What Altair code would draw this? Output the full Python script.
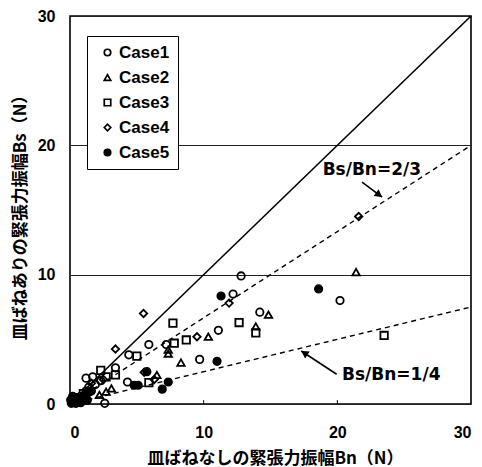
import math

import altair as alt
import pandas as pd

# Plot area size (pixels) and axis range
W, H = 401, 388
AX_MAX = 30

# Measured amplitudes: Bn (without disc spring) vs Bs (with disc spring)
cases = ["Case1", "Case2", "Case3", "Case4", "Case5"]

case1_bn = [0.3, 0.8, 1.2, 1.4, 1.9, 1.2, 1.7, 2.6, 3.4, 4.3, 4.4, 5.9, 7.2, 9.7, 11.1, 12.8, 12.2, 14.2, 20.2, 2.3]
case1_bs = [0.2, 0.5, 1.0, 1.3, 1.5, 2.0, 2.1, 0.05, 2.8, 1.7, 3.8, 4.6, 4.6, 3.45, 5.7, 9.9, 8.5, 7.1, 8.0, 1.8]

case2_bn = [0.5, 1.0, 2.2, 2.7, 3.1, 6.5, 8.3, 7.35, 7.35, 10.35, 13.9, 14.85, 21.4]
case2_bs = [0.1, 0.3, 0.7, 0.95, 1.2, 2.25, 3.2, 4.2, 3.9, 5.2, 6.0, 6.9, 10.2]

case3_bn = [0.4, 1.0, 2.3, 3.4, 5.0, 5.9, 7.7, 7.8, 8.7, 12.65, 13.9, 23.5, 2.7]
case3_bs = [0.3, 0.8, 2.6, 2.25, 3.7, 1.65, 6.25, 4.7, 4.95, 6.3, 5.5, 5.3, 2.1]

case4_bn = [0.2, 0.7, 1.6, 2.5, 3.4, 5.5, 5.55, 6.3, 9.5, 11.9, 21.6]
case4_bs = [0.4, 0.6, 1.6, 1.9, 4.25, 7.0, 2.45, 1.9, 5.2, 7.8, 14.5]

case5_bn = [0.1, 0.2, 0.3, 0.4, 0.5, 0.6, 0.7, 0.9, 1.0, 1.2, 0.2, 0.8, 0.15, 0.35, 0.55,
            0.75, 1.1, 1.4, 1.6, 0.05, 0.45, 1.3,
            4.8, 5.1, 5.75, 6.9, 7.35, 11.0, 11.3, 18.6]
case5_bs = [0.05, 0.2, 0.1, 0.3, 0.5, 0.2, 0.4, 0.6, 0.3, 0.8, 0.6, 0.1, 0.35, 0.5, 0.15,
            0.25, 0.55, 0.9, 1.0, 0.3, 0.05, 0.3,
            1.45, 1.45, 2.5, 1.15, 1.7, 3.3, 8.35, 8.9]

case_shapes = ["circle", "triangle-up", "square", "diamond", "circle"]
case_fills = ["transparent", "transparent", "transparent", "transparent", "black"]
case_strokes = ["black"] * 5

# Reference ratio lines Bs/Bn
ratio_solid = [1.0]
ratio_dashed = [2 / 3, 1 / 4]
line_ends = [0, AX_MAX]

# Small inward ticks on the bottom axis
inner_ticks = [10, 20]

# Annotations: label, text anchor, arrow start, arrow tip
ann_labels = ["Bs/Bn=2/3", "Bs/Bn=1/4"]
ann_text_bn = [18.9, 20.35]
ann_text_bs = [18.1, 2.25]
arrow_from_bn = [21.85, 19.95]
arrow_from_bs = [17.15, 2.3]
arrow_to_bn = [23.35, 17.3]
arrow_to_bs = [16.0, 4.1]

x_title = "皿ばねなしの緊張力振幅Bn（N）"
y_title = "皿ばねありの緊張力振幅Bs（N）"
tick_values = [0, 10, 20, 30]

# ---- tables ----
rows = []
for name, xs, ys in zip(cases,
                        [case1_bn, case2_bn, case3_bn, case4_bn, case5_bn],
                        [case1_bs, case2_bs, case3_bs, case4_bs, case5_bs]):
    rows += [{"case": name, "bn": x, "bs": y} for x, y in zip(xs, ys)]
pts = pd.DataFrame(rows)

solid_df = pd.DataFrame([{"r": r, "bn": x, "bs": r * x} for r in ratio_solid for x in line_ends])
dashed_df = pd.DataFrame([{"r": r, "bn": x, "bs": r * x} for r in ratio_dashed for x in line_ends])
ticks_df = pd.DataFrame({"bn": inner_ticks, "bs": [0] * len(inner_ticks),
                         "bs2": [0.3] * len(inner_ticks)})
text_df = pd.DataFrame({"label": ann_labels, "bn": ann_text_bn, "bs": ann_text_bs})
shaft_df = pd.DataFrame({"bn": arrow_from_bn, "bs": arrow_from_bs,
                         "bn2": arrow_to_bn, "bs2": arrow_to_bs})

# arrowheads: rotate a triangle toward the tip, centred slightly behind it
sx, sy = W / AX_MAX, H / AX_MAX
heads = []
for x0, y0, x1, y1 in zip(arrow_from_bn, arrow_from_bs, arrow_to_bn, arrow_to_bs):
    dx, dy = (x1 - x0) * sx, -(y1 - y0) * sy
    th = math.atan2(dy, dx)
    back = 4.0
    heads.append({
        "bn": x1 - back * math.cos(th) / sx,
        "bs": y1 + back * math.sin(th) / sy,
        "ang": (math.degrees(th) + 90) % 360,
    })
head_df = pd.DataFrame(heads)

# ---- scales / axes ----
xscale = alt.Scale(domain=[0, AX_MAX], nice=False, zero=False)
yscale = alt.Scale(domain=[0, AX_MAX], nice=False, zero=False)

x_axis = alt.Axis(values=tick_values, title=x_title, grid=False, labelPadding=20,
                  titleX=205, titleY=59, titleBaseline="alphabetic")
y_axis = alt.Axis(values=tick_values, title=y_title, grid=True, labelPadding=15,
                  titleX=-50, titleY=197, titleAngle=270, titleBaseline="middle",
                  titleAlign="center")

X = alt.X("bn:Q", scale=xscale, axis=x_axis)
Y = alt.Y("bs:Q", scale=yscale, axis=y_axis)

legend = alt.Legend(
    title=None, orient="none", legendX=17, legendY=20, padding=8,
    fillColor="white", strokeColor="black", cornerRadius=0,
    labelFont="Liberation Sans", labelFontSize=17, labelFontWeight="bold",
    labelColor="black", labelOffset=3, symbolSize=42, symbolStrokeWidth=1.7,
    symbolOffset=4, rowPadding=7,
)

diag = alt.Chart(solid_df).mark_line(color="black", strokeWidth=1.6).encode(
    x=X, y=Y, detail="r:N")

dashed = alt.Chart(dashed_df).mark_line(color="black", strokeWidth=1.4,
                                        strokeDash=[5, 4]).encode(
    x=X, y=Y, detail="r:N")

ticks = alt.Chart(ticks_df).mark_rule(color="black", strokeWidth=1).encode(
    x=X, y=Y, y2="bs2:Q")

points = alt.Chart(pts).mark_point(filled=True, size=55, strokeWidth=1.8, opacity=1).encode(
    x=X, y=Y,
    shape=alt.Shape("case:N", scale=alt.Scale(domain=cases, range=case_shapes), legend=legend),
    fill=alt.Fill("case:N", scale=alt.Scale(domain=cases, range=case_fills), legend=legend),
    stroke=alt.Stroke("case:N", scale=alt.Scale(domain=cases, range=case_strokes), legend=legend),
)

labels = alt.Chart(text_df).mark_text(align="left", baseline="middle", font="DejaVu Sans",
                                      fontSize=17, fontWeight="bold", color="black").encode(
    x=X, y=Y, text="label:N")

shafts = alt.Chart(shaft_df).mark_rule(color="black", strokeWidth=1.6).encode(
    x=X, y=Y, x2="bn2:Q", y2="bs2:Q")

arrowheads = alt.Chart(head_df).mark_point(shape="triangle-up", filled=True, fill="black",
                                           stroke="black", strokeWidth=1, size=45,
                                           opacity=1).encode(
    x=X, y=Y, angle=alt.Angle("ang:Q", scale=None))

chart = alt.layer(diag, dashed, ticks, points, labels, shafts, arrowheads).properties(
    width=W, height=H,
    autosize=alt.AutoSizeParams(type="none"),
    padding={"left": 70, "top": 16, "right": 11, "bottom": 63},
    background="white",
).configure_view(
    stroke="black", strokeWidth=1.6,
).configure_axis(
    domain=False, ticks=False,
    labelFont="Liberation Sans", labelFontSize=16, labelFontWeight="bold", labelColor="black",
    titleFont="Noto Sans CJK JP", titleFontSize=17, titleFontWeight="bold", titleColor="black",
    gridColor="#222222", gridWidth=1, gridOpacity=1,
)

chart.save("out.html", embed_options={"renderer": "svg", "actions": False})
